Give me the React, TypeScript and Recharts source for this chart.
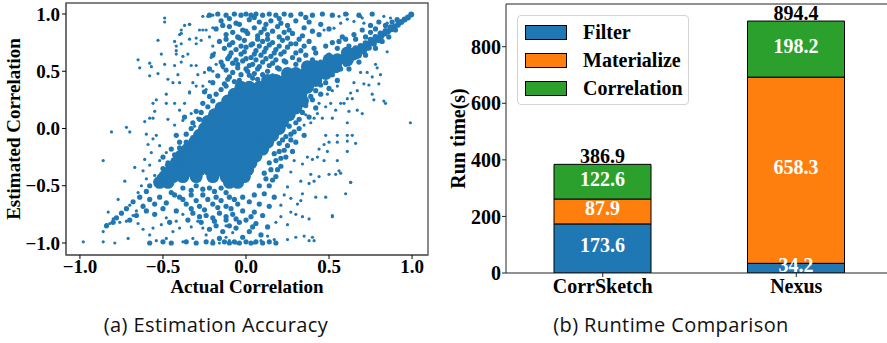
import { ScatterChart, Scatter, XAxis, YAxis, ReferenceArea, ReferenceLine, BarChart, Bar, LabelList, Legend } from "recharts";

const BLUE = "#1f77b4";
const SERIF = "'Liberation Serif', 'Times New Roman', serif";

// ---- (a) scatter: estimated vs actual correlation ----
const corrTicks = [-1, -0.5, 0, 0.5, 1];

// solid core of the cloud, read row by row: [estimated, actual values along that row]
const coreRows: [number, number[]][] = [
  [0.66, [0.61, 0.66]],
  [0.6, [0.5, 0.55, 0.61]],
  [0.54, [0.37, 0.42, 0.48, 0.54]],
  [0.48, [0.25, 0.3, 0.36, 0.42, 0.48]],
  [0.42, [0.13, 0.18, 0.24, 0.3, 0.36, 0.42]],
  [0.36, [-0.03, 0.02, 0.08, 0.14, 0.2, 0.26, 0.32, 0.37]],
  [0.3, [-0.07, -0.02, 0.04, 0.1, 0.16, 0.22, 0.28, 0.33]],
  [0.24, [-0.11, -0.06, 0, 0.06, 0.12, 0.18, 0.24, 0.3, 0.34]],
  [0.18, [-0.15, -0.1, -0.04, 0.02, 0.08, 0.14, 0.2, 0.26, 0.3]],
  [0.12, [-0.19, -0.14, -0.08, -0.02, 0.04, 0.1, 0.16, 0.22, 0.26]],
  [0.06, [-0.23, -0.18, -0.12, -0.06, 0, 0.06, 0.12, 0.18, 0.22]],
  [0, [-0.25, -0.2, -0.14, -0.08, -0.02, 0.04, 0.1, 0.16, 0.2]],
  [-0.06, [-0.28, -0.24, -0.18, -0.12, -0.06, 0, 0.06, 0.12, 0.16]],
  [-0.12, [-0.31, -0.26, -0.2, -0.14, -0.08, -0.02, 0.04, 0.1, 0.13]],
  [-0.18, [-0.35, -0.3, -0.24, -0.18, -0.12, -0.06, 0, 0.06, 0.1]],
  [-0.24, [-0.39, -0.34, -0.28, -0.22, -0.16, -0.1, -0.04, 0.02, 0.06]],
  [-0.3, [-0.42, -0.38, -0.32, -0.26, -0.2, -0.14, -0.08, -0.02, 0.03]],
  [-0.36, [-0.45, -0.4, -0.34, -0.28, -0.22, -0.16, -0.1, -0.04, 0.01]],
  [-0.42, [-0.49, -0.44, -0.38, -0.3, -0.2, -0.12, -0.06, -0.01]],
  [-0.47, [-0.52, -0.47, -0.1, -0.05]],
];

// narrow diagonal ridge towards (1, 1) [actual, estimated]
const ridgePairs: [number, number][] = [
  [0.995, 0.995], [0.975, 0.97], [0.955, 0.952], [0.935, 0.93], [0.915, 0.905], [0.895, 0.888], [0.875, 0.866],
  [0.855, 0.846], [0.835, 0.83], [0.815, 0.806], [0.795, 0.786], [0.775, 0.77], [0.755, 0.748], [0.735, 0.73],
  [0.715, 0.71], [0.695, 0.69], [0.675, 0.67], [0.87, 0.885], [0.84, 0.852], [0.81, 0.83], [0.78, 0.8], [0.75, 0.775],
  [0.72, 0.745], [0.69, 0.72], [0.66, 0.7], [0.63, 0.68], [0.8, 0.77], [0.77, 0.74], [0.74, 0.705], [0.71, 0.67],
  [0.68, 0.64], [0.72, 0.7], [0.65, 0.62],
];

// speckled zone around the core [actual, estimated]
const fringePairs: [number, number][] = [
  [-0.22, 0.99], [-0.17, 1.0], [-0.12, 0.99], [-0.07, 1.0], [-0.03, 0.99], [0.0, 1.0], [0.03, 0.99], [0.06, 1.0],
  [0.1, 0.99], [0.14, 1.0], [0.18, 0.99], [0.23, 1.0], [0.27, 0.99], [0.33, 1.0], [0.4, 0.99], [0.46, 1.0],
  [0.52, 0.99], [0.6, 1.0], [0.68, 0.99], [0.76, 1.0],
  [-0.15, 0.94], [-0.06, 0.92], [0.02, 0.95], [0.08, 0.93], [0.15, 0.94], [0.21, 0.92], [0.3, 0.94], [0.38, 0.93],
  [-0.18, 0.87], [-0.1, 0.89], [-0.02, 0.86], [0.05, 0.88], [0.11, 0.87], [0.19, 0.89], [0.26, 0.86], [0.35, 0.88], [0.5, 0.87],
  [-0.12, 0.82], [-0.05, 0.8], [0.01, 0.83], [0.07, 0.81], [0.13, 0.82], [0.2, 0.8], [0.28, 0.83], [0.34, 0.81], [0.44, 0.82], [0.58, 0.8],
  [-0.16, 0.76], [-0.08, 0.75], [-0.01, 0.77], [0.04, 0.74], [0.1, 0.76], [0.16, 0.75], [0.22, 0.77], [0.3, 0.74], [0.38, 0.76], [0.52, 0.75],
  [-0.13, 0.7], [-0.06, 0.69], [0.0, 0.71], [0.06, 0.68], [0.12, 0.7], [0.18, 0.69], [0.25, 0.71], [0.33, 0.68], [0.41, 0.7],
  [-0.2, 0.64], [-0.1, 0.63], [-0.03, 0.65], [0.03, 0.62], [0.09, 0.64], [0.15, 0.63], [0.21, 0.65], [0.28, 0.62], [0.36, 0.64],
  [-0.15, 0.58], [-0.08, 0.57], [-0.02, 0.59], [0.04, 0.56], [0.1, 0.58], [0.16, 0.57], [0.23, 0.59], [0.3, 0.56],
  [-0.22, 0.52], [-0.12, 0.51], [-0.05, 0.53], [0.01, 0.5], [0.07, 0.52], [0.13, 0.5], [0.19, 0.53],
  [-0.17, 0.46], [-0.1, 0.45], [-0.03, 0.47], [0.04, 0.44], [-0.2, 0.4], [-0.13, 0.39], [-0.07, 0.41],
  [-0.11, 0.43], [-0.04, 0.42], [0.02, 0.465], [0.07, 0.43], [-0.08, 0.49], [0.0, 0.52], [0.05, 0.48], [0.1, 0.47],
  [0.16, 0.46], [-0.14, 0.55], [-0.05, 0.56], [0.02, 0.55], [0.08, 0.54], [0.14, 0.55], [0.2, 0.52], [0.26, 0.5],
  [-0.11, 0.61], [-0.06, 0.6], [0.0, 0.61], [0.06, 0.6], [0.12, 0.61], [0.18, 0.6], [0.24, 0.58], [0.32, 0.6],
  [-0.09, 0.66], [-0.01, 0.67], [0.05, 0.65], [0.11, 0.67], [0.17, 0.66], [0.23, 0.67], [0.3, 0.66], [-0.1, 0.73],
  [-0.03, 0.72], [0.03, 0.73], [0.08, 0.72], [0.14, 0.73], [0.2, 0.72], [0.27, 0.74], [0.35, 0.72], [-0.12, 0.78],
  [-0.04, 0.79], [0.07, 0.78], [0.13, 0.78], [0.25, 0.79], [0.32, 0.78], [-0.08, 0.84], [0.0, 0.85], [0.09, 0.84],
  [0.16, 0.85], [0.23, 0.84], [0.4, 0.85], [-0.14, 0.9], [-0.04, 0.91], [0.12, 0.91], [0.25, 0.9], [0.45, 0.91],
  [-0.1, 0.96], [0.05, 0.97], [0.2, 0.96], [0.36, 0.97],
  [-0.26, 0.22], [-0.22, 0.28], [-0.25, 0.32], [-0.3, 0.15], [-0.32, 0.05], [-0.37, 0.1], [-0.36, -0.05], [-0.42, -0.06],
  [-0.33, -0.15], [-0.4, -0.12], [-0.45, -0.18], [-0.38, -0.22], [-0.5, -0.25], [-0.42, -0.3], [-0.35, -0.3], [-0.5, -0.35],
  [-0.45, -0.4], [-0.52, -0.42], [-0.58, -0.5],
  [-0.35, -0.4], [-0.4, -0.35], [-0.47, -0.3], [-0.37, -0.27], [-0.31, -0.2], [-0.43, -0.23], [-0.35, -0.18], [-0.4, -0.17],
  [-0.32, -0.08], [-0.36, -0.12], [-0.33, 0.0], [-0.28, 0.08], [-0.27, 0.14], [-0.23, 0.19], [-0.2, 0.24], [-0.18, 0.3],
  [-0.15, 0.34], [-0.12, 0.37], [-0.48, -0.43], [-0.54, -0.46],
  [-0.45, -0.56], [-0.38, -0.52], [-0.3, -0.5], [-0.22, -0.52], [-0.15, -0.52], [-0.4, -0.6], [-0.33, -0.58], [-0.26, -0.58],
  [-0.18, -0.6], [-0.1, -0.6], [-0.02, -0.6], [-0.48, -0.65], [-0.36, -0.66], [-0.28, -0.68], [-0.2, -0.66], [-0.12, -0.68],
  [-0.05, -0.66], [-0.42, -0.72], [-0.32, -0.74], [-0.24, -0.76], [-0.16, -0.74], [-0.08, -0.75], [-0.35, -0.8], [-0.27, -0.82],
  [-0.19, -0.81], [-0.12, -0.8], [-0.04, -0.82], [-0.22, -0.88], [-0.14, -0.9], [-0.06, -0.87], [-0.16, -0.96], [-0.02, -0.95],
  [-0.33, -0.54], [-0.26, -0.53], [-0.19, -0.55], [-0.12, -0.56], [-0.07, -0.62], [-0.15, -0.63], [-0.23, -0.62], [-0.3, -0.63],
  [-0.38, -0.62], [-0.43, -0.58], [-0.09, -0.7], [-0.17, -0.69], [-0.25, -0.71], [-0.33, -0.7], [-0.02, -0.72], [-0.12, -0.77],
  [-0.2, -0.78], [-0.28, -0.77], [-0.06, -0.79], [0.03, -0.77], [-0.1, -0.85], [-0.18, -0.85], [0.04, -0.86],
  [0.22, -0.1], [0.27, -0.05], [0.25, -0.15], [0.2, -0.2], [0.3, -0.12], [0.18, -0.28], [0.24, -0.25], [0.15, -0.36],
  [0.21, -0.33], [0.12, -0.44], [0.18, -0.42], [0.08, -0.5], [0.14, -0.5], [0.05, -0.58], [0.11, -0.57], [0.17, -0.6],
  [0.02, -0.64], [0.08, -0.66], [0.14, -0.68], [0.05, -0.73], [0.1, -0.76], [0.0, -0.8], [0.06, -0.83], [0.13, -0.86],
  [0.02, -0.9], [0.09, -0.93], [0.32, 0.0], [0.35, -0.06], [0.3, 0.05], [0.28, -0.2],
  [0.26, 0.02], [0.29, -0.03], [0.24, -0.07], [0.2, -0.13], [0.27, -0.1], [0.23, -0.19], [0.17, -0.22], [0.21, -0.26],
  [0.14, -0.3], [0.19, -0.36], [0.11, -0.39], [0.16, -0.45], [0.32, 0.08], [0.34, 0.14], [0.36, 0.2], [0.39, 0.28],
  [0.42, 0.33], [0.45, 0.38], [0.48, 0.4], [0.52, 0.47], [0.57, 0.52], [0.6, 0.56],
  [0.55, 0.7], [0.6, 0.78], [0.65, 0.82], [0.7, 0.86], [0.75, 0.9], [0.8, 0.93], [0.62, 0.52], [0.68, 0.58], [0.72, 0.64],
  [0.78, 0.7], [0.82, 0.76], [0.86, 0.8], [0.9, 0.86], [0.5, 0.35], [0.55, 0.42], [0.45, 0.3], [0.4, 0.25], [0.42, 0.18], [0.38, 0.1],
  [0.42, 0.66], [0.48, 0.72], [0.5, 0.64], [0.56, 0.76], [0.45, 0.58], [0.4, 0.6], [0.62, 0.72], [0.66, 0.78], [0.72, 0.8],
  [0.75, 0.84], [0.78, 0.87], [0.84, 0.9], [0.88, 0.93], [0.91, 0.95],
  [-0.6, -0.55], [-0.64, -0.6], [-0.58, -0.62], [-0.68, -0.64], [-0.62, -0.68], [-0.55, -0.66], [-0.72, -0.7], [-0.66, -0.76],
  [-0.75, -0.74], [-0.78, -0.78], [-0.8, -0.82], [-0.84, -0.85], [-0.7, -0.8], [-0.6, -0.72], [-0.55, -0.75], [-0.52, -0.6],
  [-0.5, -0.7], [-0.46, -0.82],
  [-0.58, -1.0], [-0.5, -0.99], [-0.45, -1.0], [-0.36, -0.99], [-0.3, -1.0], [-0.24, -0.99], [-0.2, -1.0], [-0.13, -0.99],
  [-0.1, -1.0], [-0.07, -0.99], [-0.04, -1.0], [0.0, -0.99], [0.03, -1.0], [0.06, -0.99], [0.1, -1.0], [0.14, -0.99], [0.18, -1.0],
];

// isolated points far from the diagonal [actual, estimated]
const outlierPairs: [number, number][] = [
  [-0.49, 0.965], [-0.49, 0.93], [-0.53, 0.77], [-0.65, 0.6], [-0.64, 0.53], [-0.58, 0.57], [-0.57, 0.54], [-0.53, 0.48],
  [-0.58, 0.46], [-0.51, 0.65], [-0.49, 0.56], [-0.47, 0.43], [-0.44, 0.4], [-0.43, 0.76], [-0.42, 0.72], [-0.42, 0.68],
  [-0.42, 0.65], [-0.4, 0.82], [-0.39, 0.86], [-0.37, 0.9], [-0.34, 0.91], [-0.39, 0.74], [-0.43, 0.55], [-0.41, 0.47],
  [-0.4, 0.4], [-0.38, 0.63], [-0.39, 0.58], [-0.35, 0.65], [-0.34, 0.78], [-0.3, 0.74], [-0.3, 0.79], [-0.33, 0.55],
  [-0.3, 0.55], [-0.29, 0.47], [-0.32, 0.4], [-0.3, 0.37], [-0.34, 0.32], [-0.26, 0.98], [-0.23, 0.98], [-0.2, 0.99],
  [-0.26, 0.86], [-0.24, 0.86], [-0.2, 0.88], [-0.22, 0.8], [-0.2, 0.72], [-0.19, 0.66], [-0.21, 0.62], [-0.25, 0.49],
  [-0.2, 0.5], [-0.26, 0.37], [-0.24, 0.34], [-0.22, 0.41], [-0.18, 0.56], [-0.14, 0.53], [-0.48, 0.3], [-0.54, 0.25],
  [-0.56, 0.22], [-0.55, 0.15], [-0.56, 0.09], [-0.48, 0.22], [-0.43, 0.22], [-0.4, 0.16], [-0.37, 0.22], [-0.34, 0.31],
  [-0.61, 0.06], [-0.58, 0.09], [-0.72, 0.01], [-0.47, 0.08], [-0.43, 0.03], [-0.38, 0.07], [-0.33, 0.13], [-0.29, 0.09],
  [-0.31, 0.02], [-0.34, 0.91], [-0.39, 0.83], [-0.28, 0.86], [-0.27, 0.77],
  [0.7, 0.965], [0.76, 1.0], [0.85, 0.67], [0.78, 0.56], [0.79, 0.53], [0.81, 0.47], [0.8, 0.39], [0.73, 0.49], [0.74, 0.38],
  [0.69, 0.49], [0.65, 0.4], [0.67, 0.33], [0.63, 0.31], [0.76, 0.3], [0.77, 0.25], [0.7, 0.13], [0.67, 0.16], [0.62, 0.15],
  [0.59, 0.22], [0.99, 0.05], [0.61, 0.26], [0.57, 0.22], [0.54, 0.16], [0.52, 0.09], [0.55, 0.37], [0.52, 0.33], [0.49, 0.3],
  [0.51, 0.22], [0.48, 0.19], [0.44, 0.22], [0.43, 0.13], [0.46, 0.09], [0.41, 0.09], [0.39, 0.05], [0.36, 0.12], [0.35, 0.03],
  [0.61, 0.955], [0.65, 0.935], [0.57, 0.92], [0.53, 0.876], [0.47, 0.86], [0.56, 0.98], [0.61, 1.0], [0.69, 0.98], [0.71, 0.92],
  [0.83, 0.98], [0.87, 0.965], [0.85, 0.92], [0.64, 0.26], [0.61, 0.05], [0.83, 0.24], [0.84, 0.22], [0.71, 0.39], [0.76, 0.45],
  [0.61, -0.06], [0.64, -0.06], [0.66, -0.13], [0.61, -0.11], [0.61, -0.2], [0.55, -0.12], [0.55, -0.28], [0.5, -0.4],
  [0.56, -0.37], [0.54, -0.4], [0.63, -0.47], [0.6, -0.57], [0.42, -0.6], [0.52, -0.77], [0.49, -0.2], [0.47, -0.28],
  [0.43, -0.25], [0.44, -0.42], [0.41, -0.46], [0.39, -0.4], [0.38, -0.48], [0.33, -0.46], [0.34, -0.57], [0.33, -0.63],
  [0.31, -0.66], [0.38, -0.79], [0.34, -0.77], [0.3, -0.75], [0.25, -0.97], [0.3, -0.95], [0.35, -0.94], [0.4, -0.95],
  [0.38, -0.98], [0.41, -0.98], [0.48, -0.06], [0.5, -0.12], [0.55, -0.06], [0.47, -0.14], [0.44, -0.18], [0.37, -0.25],
  [0.4, -0.27], [0.34, -0.31], [0.29, -0.28], [0.27, -0.38], [0.25, -0.51], [0.27, -0.61], [0.23, -0.58], [0.21, -0.67],
  [0.27, -0.73], [0.21, -0.77], [0.25, -0.84], [0.18, -0.82], [0.17, -0.97], [0.13, -0.94], [0.09, -0.98], [0.05, -1.0],
  [0.18, -1.0], [0.57, -0.39], [0.63, -0.47], [0.52, -0.76], [0.48, -0.6],
  [-0.81, -0.03], [-0.86, -0.28], [-0.7, -0.03], [-0.67, -0.34], [-0.73, -0.46], [-0.77, -0.62], [-0.83, -0.73],
  [-0.98, -0.99], [-0.86, -0.99], [-0.79, -1.0], [-0.71, -0.96], [-0.82, -0.83], [-0.8, -0.79], [-0.84, -0.84], [-0.86, -0.9],
  [-0.76, -0.82], [-0.72, -0.81], [-0.68, -0.76], [-0.65, -0.83], [-0.62, -0.88], [-0.66, -0.72], [-0.7, -0.67], [-0.62, -0.67],
  [-0.65, -0.56], [-0.63, -0.5], [-0.6, -0.44], [-0.62, -0.37], [-0.58, -0.32], [-0.61, -0.27], [-0.57, -0.21], [-0.59, -0.14],
  [-0.56, -0.09], [-0.6, -0.05], [-0.54, -0.06], [-0.52, -0.15], [-0.48, -0.21], [-0.52, -0.28], [-0.48, -0.32], [-0.44, -0.27],
  [-0.55, -0.41], [-0.51, -0.47], [-0.58, -0.93], [-0.54, -0.98], [-0.48, -0.96], [-0.44, -0.9], [-0.38, -0.99], [-0.32, -0.96],
  [-0.56, -0.87], [-0.51, -0.84], [-0.48, -0.78], [-0.42, -0.81], [-0.38, -0.75], [-0.4, -0.87], [-0.33, -0.86], [-0.29, -0.81],
  [-0.26, -0.87], [-0.24, -0.93], [-0.2, -0.98], [-0.16, -1.0], [-0.12, -0.95], [-0.1, -0.98], [-0.06, -1.0], [-0.08, -0.91],
  [-0.12, -0.85],
];

const corePoints = coreRows.flatMap(([y, xs]) => xs.map((x) => ({ x, y })));
const ridgePoints = ridgePairs.map(([x, y]) => ({ x, y }));
const fringePoints = fringePairs.map(([x, y]) => ({ x, y }));
const outlierPoints = outlierPairs.map(([x, y]) => ({ x, y }));

const xDomain = [-1.084, 1.096];
const yDomain = [-1.105, 1.096];

// ---- (b) stacked runtime bars ----
const systems = ["CorrSketch", "Nexus"];
const filterTime = [173.6, 34.2];
const materializeTime = [87.9, 658.3];
const correlationTime = [122.6, 198.2];
const totalTime = [386.9, 894.4];
const stageNames = ["Filter", "Materialize", "Correlation"];
const stageColors = ["#1f77b4", "#ff7f0e", "#2ca02c"];
const runTicks = [0, 200, 400, 600, 800];

const runData = systems.map((name, i) => ({
  name,
  filter: filterTime[i],
  materialize: materializeTime[i],
  correlation: correlationTime[i],
  total: totalTime[i],
}));

const fmtCorr = (v: number) => (v < 0 ? "\u2212" : "") + Math.abs(v).toFixed(1);

const dot = (r: number) => (props: any) => <circle cx={props.cx} cy={props.cy} r={r} fill={BLUE} />;

const tickFont = (size: number) => ({ fill: "#000", fontSize: size, fontFamily: SERIF, fontWeight: "bold" as const });

const VerticalTitle = ({ viewBox, text, left, size }: any) => {
  const cx = viewBox.x + left;
  const cy = viewBox.y + viewBox.height / 2;
  return (
    <text x={cx} y={cy} transform={`rotate(-90 ${cx} ${cy})`} textAnchor="middle" dominantBaseline="central"
      style={{ fontFamily: SERIF, fontWeight: "bold", fontSize: size, fill: "#000" }}>
      {text}
    </text>
  );
};

const insideLabel = (props: any) => {
  const { x, y, width, height, value } = props;
  return (
    <text x={x + width / 2} y={y + height / 2 + 4} textAnchor="middle"
      style={{ fontFamily: SERIF, fontWeight: "bold", fontSize: 20, fill: "#fff" }}>
      {value}
    </text>
  );
};

const totalLabel = (props: any) => {
  const { x, y, width, value } = props;
  return (
    <text x={x + width / 2} y={y - 1} textAnchor="middle"
      style={{ fontFamily: SERIF, fontWeight: "bold", fontSize: 20, fill: "#000" }}>
      {value}
    </text>
  );
};

const renderLegend = () => (
  <div style={{ width: 170, height: 88, border: "1px solid #d4d4d4", borderRadius: 4, background: "rgba(255,255,255,0.8)", position: "relative" }}>
    {stageNames.map((s, i) => (
      <div key={s} style={{ position: "absolute", left: 7, top: 8 + i * 28, height: 16, display: "flex", alignItems: "center" }}>
        <div style={{ width: 40, height: 13, background: stageColors[i], border: "1px solid #000" }} />
        <span style={{ marginLeft: 16, fontFamily: SERIF, fontWeight: "bold", fontSize: 20, lineHeight: "16px", color: "#000" }}>{s}</span>
      </div>
    ))}
  </div>
);

const caption: React.CSSProperties = {
  position: "absolute",
  top: 311,
  fontFamily: "'Open Sans', sans-serif",
  fontSize: 20,
  letterSpacing: 0.4,
  color: "#111",
  textAlign: "center",
  whiteSpace: "nowrap",
};

export default function App() {
  return (
    <div style={{ position: "absolute", left: 0, top: 0, width: 887, height: 343, overflow: "hidden", background: "#fff" }}>
      <div style={{ position: "absolute", left: 0, top: 0 }}>
        <ScatterChart width={440} height={300} margin={{ top: 3, right: 12, left: 0, bottom: 0 }}>
          <XAxis type="number" dataKey="x" domain={xDomain} ticks={corrTicks} allowDataOverflow tickFormatter={fmtCorr}
            height={45} tickSize={4} tickMargin={1} tick={tickFont(19)} stroke="#595959" tickLine={{ stroke: "#000" }}
            label={(p: any) => (
              <text x={p.viewBox.x + p.viewBox.width / 2} y={p.viewBox.y + 38} textAnchor="middle"
                style={{ fontFamily: SERIF, fontWeight: "bold", fontSize: 19, fill: "#000" }}>Actual Correlation</text>
            )} />
          <YAxis type="number" dataKey="y" domain={yDomain} ticks={corrTicks} allowDataOverflow tickFormatter={fmtCorr}
            width={66} tickSize={4} tickMargin={2} tick={tickFont(19)} stroke="#595959" tickLine={{ stroke: "#000" }}
            label={(p: any) => <VerticalTitle viewBox={p.viewBox} text="Estimated Correlation" left={13} size={19} />} />
          <Scatter data={corePoints} shape={dot(6.5)} isAnimationActive={false} />
          <Scatter data={ridgePoints} shape={dot(3)} isAnimationActive={false} />
          <Scatter data={fringePoints} shape={dot(2.6)} isAnimationActive={false} />
          <Scatter data={outlierPoints} shape={dot(1.6)} isAnimationActive={false} />
          <ReferenceArea x1={xDomain[0]} x2={xDomain[1]} y1={yDomain[0]} y2={yDomain[1]} fill="none" stroke="#595959" strokeWidth={1.4} ifOverflow="visible" />
        </ScatterChart>
      </div>

      <div style={{ position: "absolute", left: 440, top: 0 }}>
        <BarChart width={453} height={305} data={runData} margin={{ top: 4, right: 0, left: 0, bottom: 0 }}>
          <XAxis dataKey="name" height={32} tickSize={4} tickMargin={2} tick={tickFont(20)} stroke="#222" />
          <YAxis domain={[0, 951]} ticks={runTicks} allowDataOverflow width={66} tickSize={4} tickMargin={1} tick={tickFont(20)} stroke="#222"
            label={(p: any) => <VerticalTitle viewBox={p.viewBox} text="Run time(s)" left={18} size={20} />} />
          <ReferenceLine y={951} stroke="#222" ifOverflow="visible" />
          <Legend layout="vertical" align="center" verticalAlign="middle" width={172} height={90}
            wrapperStyle={{ left: 77, top: 15 }} content={renderLegend} />
          <Bar dataKey="filter" stackId="run" fill={stageColors[0]} stroke="#000" strokeWidth={1} barSize={97} isAnimationActive={false}>
            <LabelList dataKey="filter" content={insideLabel} />
          </Bar>
          <Bar dataKey="materialize" stackId="run" fill={stageColors[1]} stroke="#000" strokeWidth={1} barSize={97} isAnimationActive={false}>
            <LabelList dataKey="materialize" content={insideLabel} />
          </Bar>
          <Bar dataKey="correlation" stackId="run" fill={stageColors[2]} stroke="#000" strokeWidth={1} barSize={97} isAnimationActive={false}>
            <LabelList dataKey="correlation" content={insideLabel} />
            <LabelList dataKey="total" content={totalLabel} />
          </Bar>
        </BarChart>
      </div>

      <div style={{ ...caption, left: 96, width: 240 }}>(a) Estimation Accuracy</div>
      <div style={{ ...caption, left: 551, width: 240 }}>(b) Runtime Comparison</div>
    </div>
  );
}
